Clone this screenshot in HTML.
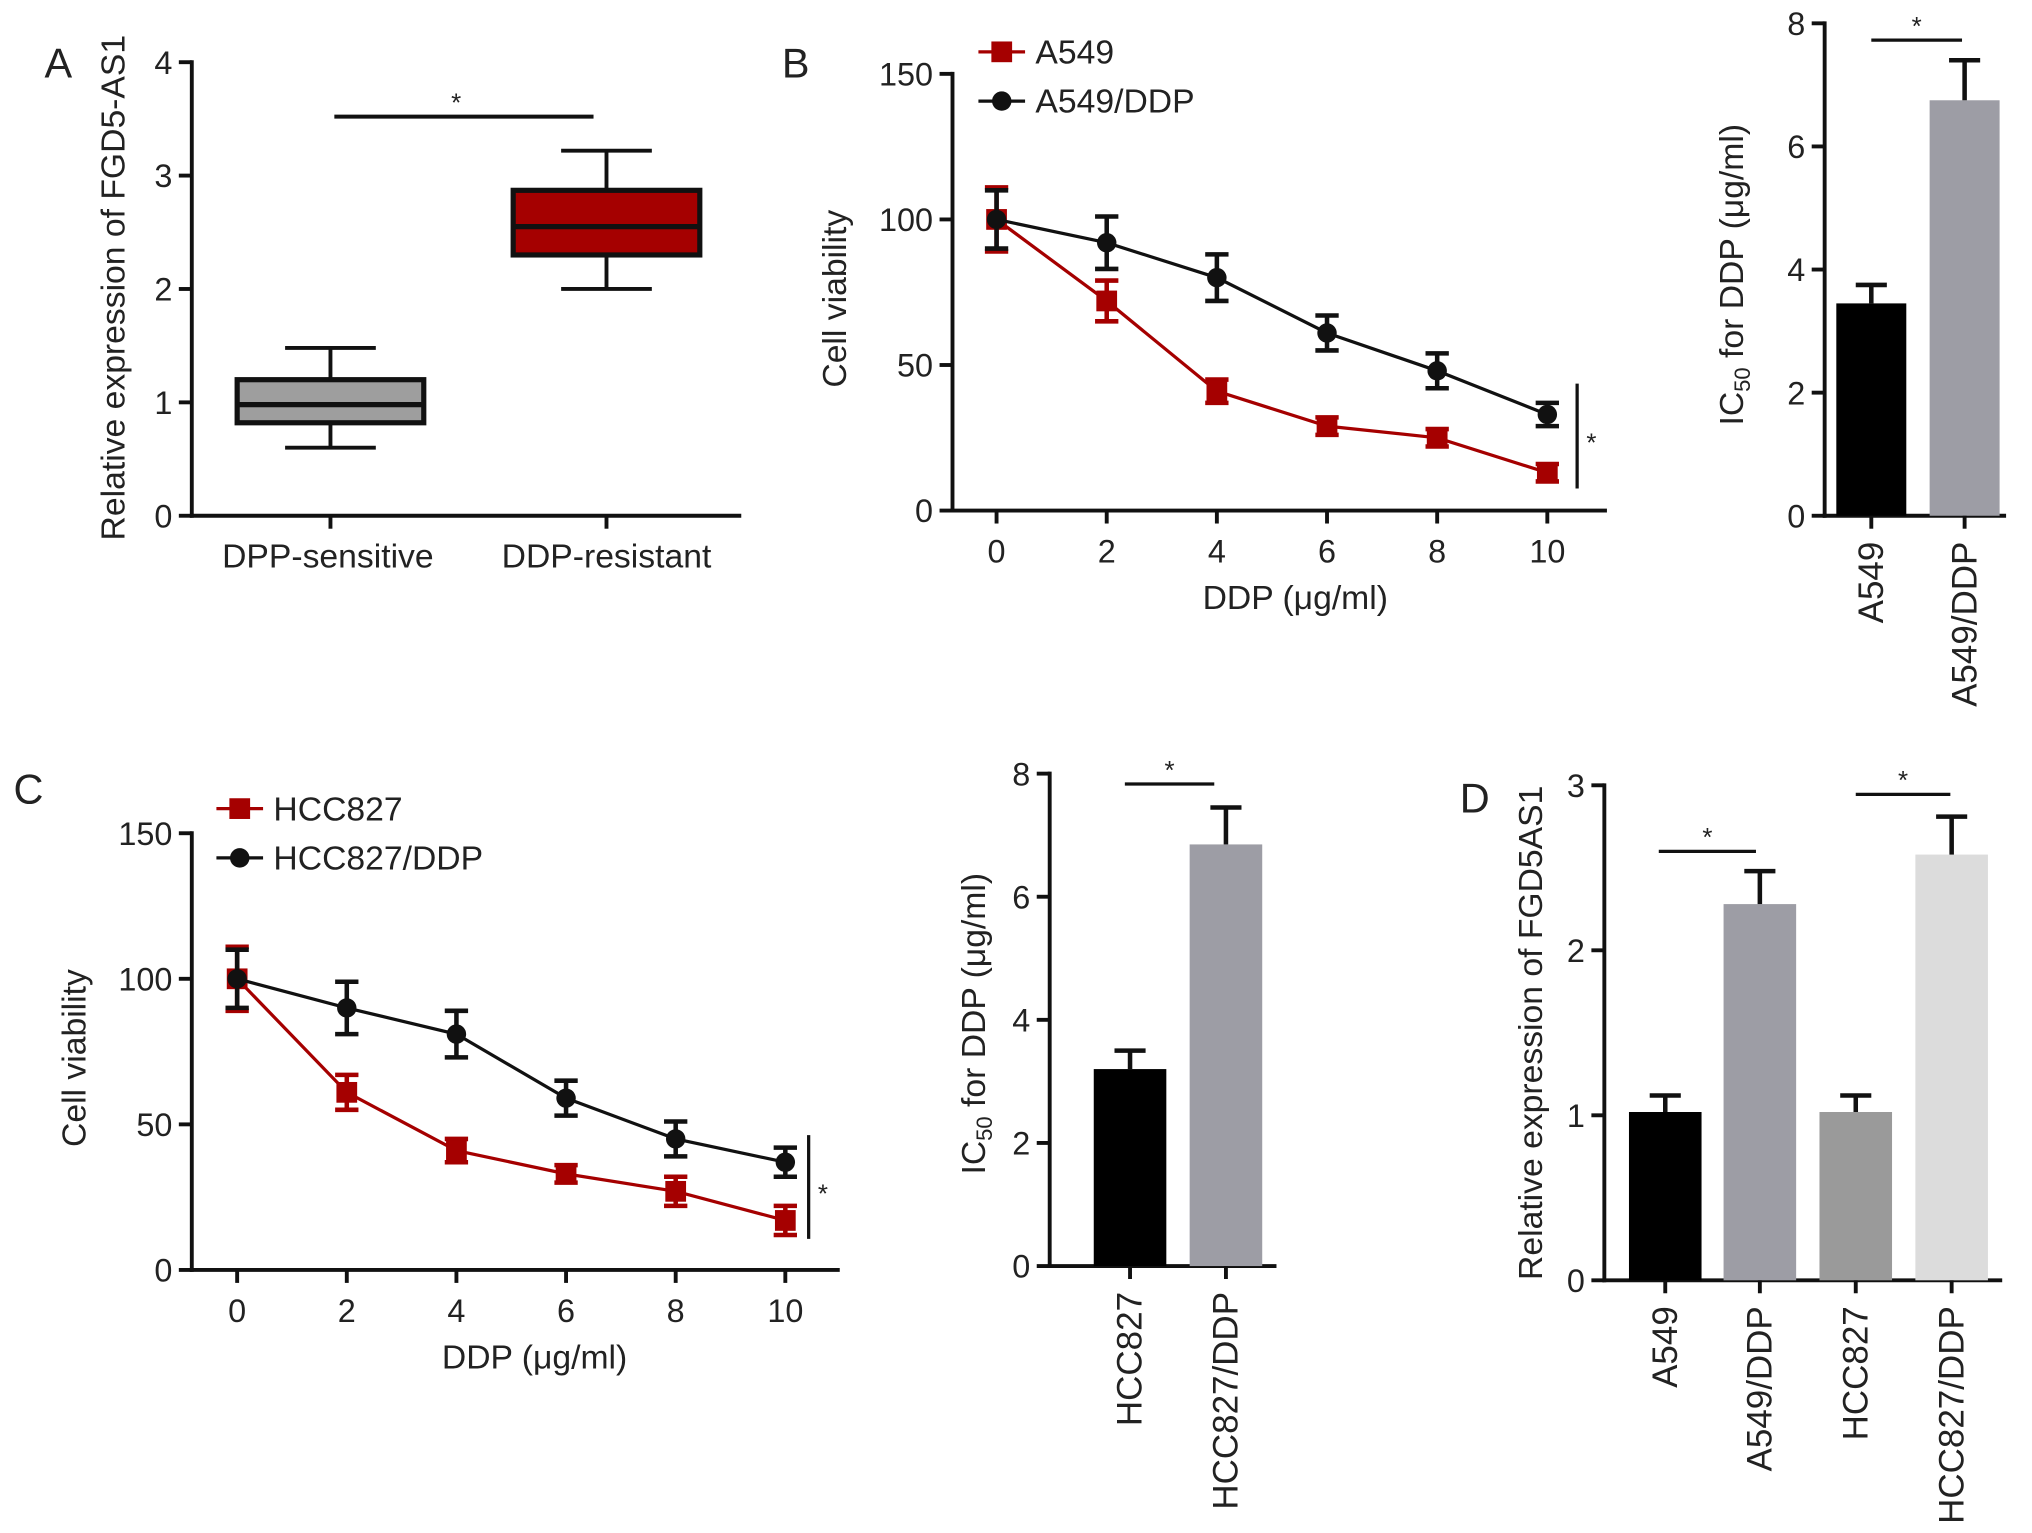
<!DOCTYPE html>
<html><head><meta charset="utf-8"><style>
html,body{margin:0;padding:0;background:#fff;}
svg{display:block;font-family:"Liberation Sans",Arial,sans-serif;}
</style></head><body>
<svg id="fig" width="2032" height="1533" viewBox="0 0 1568 1183" preserveAspectRatio="none" xmlns="http://www.w3.org/2000/svg"></svg>
<script>
// Panel A box data
const boxCats = ["DPP-sensitive","DDP-resistant"];
const boxMin = [0.6, 2.0];
const boxQ1 = [0.82, 2.3];
const boxMed = [0.98, 2.55];
const boxQ3 = [1.2, 2.87];
const boxMax = [1.48, 3.22];
const boxColors = ["#9e9e9e","#a50000"];
const aTicks = [0,1,2,3,4];
// Panel B line
const doses = [0,2,4,6,8,10];
const bA549 = [100,72,41,29,25,13];
const bA549Err = [11,7,4,3,3,3];
const bA549DDP = [100,92,80,61,48,33];
const bA549DDPErr = [10,9,8,6,6,4];
const lineTicks = [0,50,100,150];
// Panel B bars
const bBarCats = ["A549","A549/DDP"];
const bBarVals = [3.45,6.75];
const bBarErr = [0.3,0.65];
const icTicks = [0,2,4,6,8];
// Panel C line
const cHCC = [100,61,41,33,27,17];
const cHCCErr = [11,6,4,3,5,5];
const cHCCDDP = [100,90,81,59,45,37];
const cHCCDDPErr = [10,9,8,6,6,5];
// Panel C bars
const cBarCats = ["HCC827","HCC827/DDP"];
const cBarVals = [3.2,6.85];
const cBarErr = [0.3,0.6];
// Panel D
const dCats = ["A549","A549/DDP","HCC827","HCC827/DDP"];
const dVals = [1.02,2.28,1.02,2.58];
const dErr = [0.1,0.2,0.1,0.23];
const dTicks = [0,1,2,3];

const svg = document.getElementById('fig');
const NS = "http://www.w3.org/2000/svg";
function el(tag, attrs, name, parent){
  const e = document.createElementNS(NS, tag);
  for (const k in attrs) e.setAttribute(k, attrs[k]);
  
  
  (parent||svg).appendChild(e); return e;
}
function txt(x,y,s,size,name,anchor,rot){
  const t = el('text',{x:x,y:y,'font-size':size,'text-anchor':anchor||'middle',fill:'#222'},name);
  if(rot) t.setAttribute('transform',`rotate(${rot} ${x} ${y})`);
  t.textContent = s; return t;
}
function line(x1,y1,x2,y2,name,w,c){ return el('line',{x1,y1,x2,y2,stroke:c||'#111','stroke-width':w||3},name); }
const FS = 25;

function yAxis(x, y0, y1, vmax, ticks, name){
  const ys = v => y0 - (v/vmax)*(y0-y1);
  line(x, y0+1.5, x, y1-1.5, name+'-line');
  ticks.forEach(t=>{ line(x-10, ys(t), x, ys(t), name+'-tick'); txt(x-15, ys(t)+9, String(t), FS, name+'-tick-label','end'); });
  return ys;
}

// Panel labels
txt(45,60,'A',32,'panel-label-a');
txt(614,60,'B',32,'panel-label-b');
txt(22,620,'C',32,'panel-label-c');
txt(1138,627,'D',32,'panel-label-d');

// ===== Panel A =====
(function(){
  const ys = yAxis(148, 398, 48, 4, aTicks, 'a-y-axis');
  line(146.5, 398, 572, 398, 'a-x-axis');
  const xs = [255, 468];
  boxCats.forEach((c,i)=>{
    const x = xs[i], hw = 72;
    line(x, ys(boxMin[i]), x, ys(boxQ1[i]), 'a-whisker-low');
    line(x, ys(boxQ3[i]), x, ys(boxMax[i]), 'a-whisker-high');
    line(x-35, ys(boxMin[i]), x+35, ys(boxMin[i]), 'a-whisker-cap');
    line(x-35, ys(boxMax[i]), x+35, ys(boxMax[i]), 'a-whisker-cap');
    el('rect',{x:x-hw,y:ys(boxQ3[i]),width:hw*2,height:ys(boxQ1[i])-ys(boxQ3[i]),fill:boxColors[i],stroke:'#111','stroke-width':4},'a-box-'+i);
    line(x-hw, ys(boxMed[i]), x+hw, ys(boxMed[i]), 'a-median', 4);
    line(x, 398, x, 408, 'a-x-tick');
    txt(x+(i?0:-2), 438, c, 26, 'a-x-label');
  });
  line(258, 90, 458, 90, 'a-significance-line');
  txt(352, 86, '*', 20, 'a-significance-star');
  txt(96, 222, 'Relative expression of FGD5-AS1', 26, 'a-y-axis-title','middle',-90);
})();

// ===== line chart helper =====
function lineChart(p){
  const ys = yAxis(p.ax, p.y0, p.y1, 150, lineTicks, p.id+'-y-axis');
  line(p.ax-1.5, p.y0, p.xEnd, p.y0, p.id+'-x-axis');
  const xs = d => p.x0 + d/10*(p.x10-p.x0);
  doses.forEach(d=>{ line(xs(d), p.y0, xs(d), p.y0+10, p.id+'-x-tick'); txt(xs(d), p.y0+40, String(d), FS, p.id+'-x-tick-label'); });
  txt((p.x0+p.x10)/2+18, p.y0+76, 'DDP (μg/ml)', 26, p.id+'-x-axis-title');
  txt(p.ax-82, (p.y0+p.y1)/2+5, 'Cell viability', 26, p.id+'-y-axis-title','middle',-90);
  const series = [
    {v:p.red, e:p.redErr, c:'#a50000', sq:true, n:'red'},
    {v:p.blk, e:p.blkErr, c:'#111', sq:false, n:'black'}];
  series.forEach(s=>{
    el('polyline',{points:doses.map((d,i)=>xs(d)+','+ys(s.v[i])).join(' '),fill:'none',stroke:s.c,'stroke-width':2.5},p.id+'-line-'+s.n);
    doses.forEach((d,i)=>{
      const x=xs(d), y=ys(s.v[i]), t=ys(s.v[i]+s.e[i]), b=ys(s.v[i]-s.e[i]);
      line(x,t,x,b,p.id+'-errorbar-'+s.n,3.5,s.c);
      line(x-9,t,x+9,t,p.id+'-errorcap-'+s.n,3.5,s.c);
      line(x-9,b,x+9,b,p.id+'-errorcap-'+s.n,3.5,s.c);
      if(s.sq) el('rect',{x:x-8,y:y-8,width:16,height:16,fill:s.c},p.id+'-point-'+s.n);
      else el('circle',{cx:x,cy:y,r:7.5,fill:s.c},p.id+'-point-'+s.n);
    });
  });
  line(p.sigX, p.sigY1, p.sigX, p.sigY2, p.id+'-significance-line', 2.5);
  txt(p.sigX+11, (p.sigY1+p.sigY2)/2+12, '*', 20, p.id+'-significance-star');
  const lx=p.lx, ly=p.ly;
  line(lx-18,ly,lx+18,ly,p.id+'-legend-red-line',2.5,'#a50000');
  el('rect',{x:lx-8,y:ly-8,width:16,height:16,fill:'#a50000'},p.id+'-legend-red-marker');
  txt(lx+26, ly+9, p.names[0], 26, p.id+'-legend-red-label','start');
  line(lx-18,ly+38,lx+18,ly+38,p.id+'-legend-black-line',2.5,'#111');
  el('circle',{cx:lx,cy:ly+38,r:7.5,fill:'#111'},p.id+'-legend-black-marker');
  txt(lx+26, ly+47, p.names[1], 26, p.id+'-legend-black-label','start');
}
lineChart({id:'b',ax:735,y0:394,y1:57,x0:769,x10:1194,xEnd:1240,red:bA549,redErr:bA549Err,blk:bA549DDP,blkErr:bA549DDPErr,sigX:1217,sigY1:296,sigY2:377,lx:773,ly:40,names:['A549','A549/DDP']});
lineChart({id:'c',ax:148,y0:980,y1:643,x0:183,x10:606,xEnd:648,red:cHCC,redErr:cHCCErr,blk:cHCCDDP,blkErr:cHCCDDPErr,sigX:624,sigY1:876,sigY2:956,lx:185,ly:624,names:['HCC827','HCC827/DDP']});

// ===== bar chart helper =====
function barChart(p){
  const ys = yAxis(p.ax, p.y0, p.y1, p.vmax, p.ticks, p.id+'-y-axis');
  line(p.ax-1.5, p.y0, p.xEnd, p.y0, p.id+'-x-axis');
  p.cats.forEach((c,i)=>{
    const x = p.xs[i], w = p.w;
    el('rect',{x:x-w/2,y:ys(p.vals[i]),width:w,height:p.y0-ys(p.vals[i]),fill:p.colors[i]},p.id+'-bar-'+i);
    const t = ys(p.vals[i]+p.err[i]);
    line(x, ys(p.vals[i]), x, t, p.id+'-errorbar', 3.5);
    line(x-12, t, x+12, t, p.id+'-errorcap', 3.5);
    line(x, p.y0, x, p.y0+10, p.id+'-x-tick');
    txt(x+9, p.y0+20, c, 27, p.id+'-x-label','end',-90);
  });
  p.sig.forEach(s=>{
    line(s[0], s[2], s[1], s[2], p.id+'-significance-line', 2.5);
    txt((s[0]+s[1])/2, s[2]-4, '*', 20, p.id+'-significance-star');
  });
}
function icTitle(x,y,name){
  const t = el('text',{x:x,y:y,'font-size':26,'text-anchor':'middle',fill:'#222',transform:`rotate(-90 ${x} ${y})`},name);
  t.innerHTML = 'IC<tspan font-size="17" baseline-shift="-30%">50</tspan> for DDP (μg/ml)';
}
barChart({id:'b-bar',ax:1408,y0:398,y1:18,vmax:8,ticks:icTicks,xEnd:1548,cats:bBarCats,vals:bBarVals,err:bBarErr,xs:[1444,1516],w:54,colors:['#000','#9d9da5'],sig:[[1444,1514,31]]});
icTitle(1345,212,'b-bar-y-axis-title');
barChart({id:'c-bar',ax:810,y0:977,y1:597,vmax:8,ticks:icTicks,xEnd:985,cats:cBarCats,vals:cBarVals,err:cBarErr,xs:[872,946],w:56,colors:['#000','#9d9da5'],sig:[[868,937,605]]});
icTitle(760,790,'c-bar-y-axis-title');
barChart({id:'d-bar',ax:1238,y0:988,y1:606,vmax:3,ticks:dTicks,xEnd:1545,cats:dCats,vals:dVals,err:dErr,xs:[1285,1358,1432,1506],w:56,colors:['#000','#9d9da5','#9a9a9a','#dcdcdc'],sig:[[1280,1355,657],[1432,1505,613]]});
txt(1190, 797, 'Relative expression of FGD5AS1', 26, 'd-y-axis-title','middle',-90);
</script>
</body></html>
